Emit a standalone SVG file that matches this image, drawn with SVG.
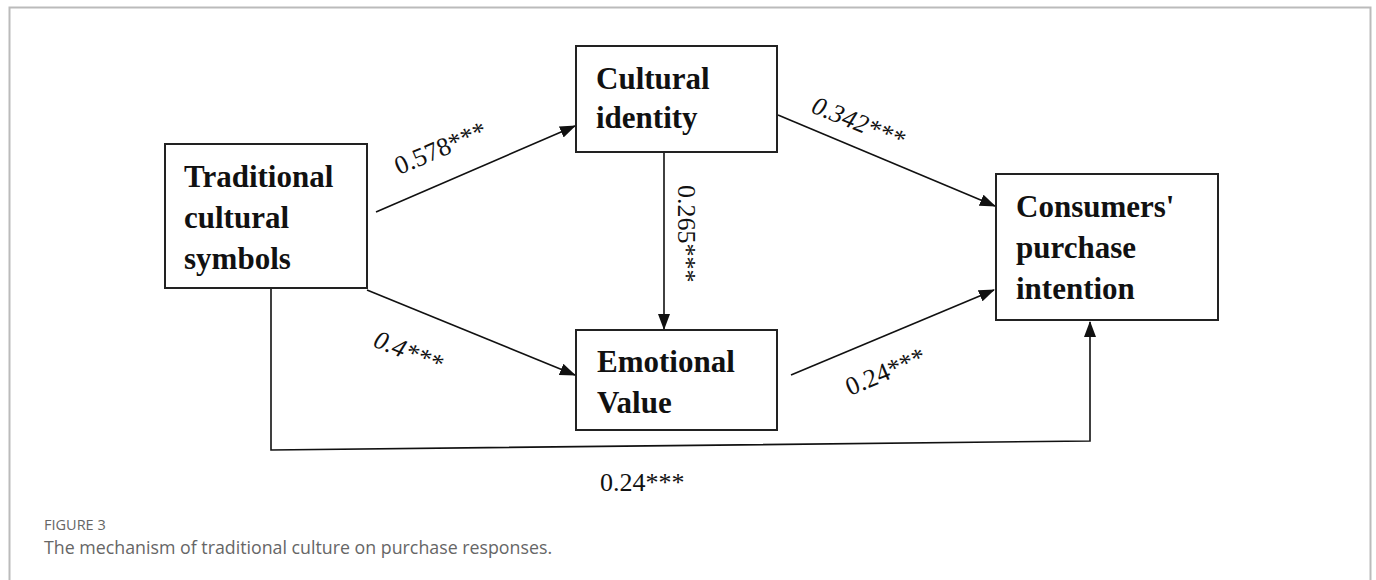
<svg xmlns="http://www.w3.org/2000/svg" width="1376" height="580" viewBox="0 0 1376 580">
<style>
.box{fill:#fff;stroke:#222;stroke-width:2}
.nt{font-family:"Liberation Serif","Times New Roman",serif;font-weight:bold;font-size:31px;fill:#111}
.lb{font-family:"Liberation Serif","Times New Roman",serif;font-size:26px;fill:#111}
.it{font-style:italic}
.edge{fill:none;stroke:#111;stroke-width:1.6}
.cap1{font-family:"Open Sans","Noto Sans",sans-serif;font-size:14.5px;fill:#666}
.cap2{font-family:"Open Sans","Noto Sans",sans-serif;font-size:17.8px;fill:#666}
</style>
<defs>
<marker id="ah" markerWidth="16" markerHeight="12" refX="15" refY="6" orient="auto" markerUnits="userSpaceOnUse">
<path d="M0,0 L16,6 L0,12 Z" fill="#111"/>
</marker>
</defs>
<rect width="1376" height="580" fill="#fff"/>
<path d="M9.5,590 V7.5 H1370.5 V590" fill="none" stroke="#bbb" stroke-width="2"/>

<g id="connectors">
<line class="edge" x1="376" y1="212" x2="575" y2="126" marker-end="url(#ah)"/>
<line class="edge" x1="778" y1="115" x2="995" y2="206" marker-end="url(#ah)"/>
<line class="edge" x1="664" y1="152" x2="664" y2="329" marker-end="url(#ah)"/>
<line class="edge" x1="367" y1="290" x2="575" y2="375" marker-end="url(#ah)"/>
<line class="edge" x1="791" y1="375" x2="994" y2="290" marker-end="url(#ah)"/>
<polyline class="edge" points="271,289 271,450 1090,441 1090,322" marker-end="url(#ah)"/>
<text class="lb" transform="translate(399,175) rotate(-23)">0.578***</text>
<text class="lb it" transform="translate(810,112) rotate(22)">0.342***</text>
<text class="lb" transform="translate(678,185) rotate(90)">0.265***</text>
<text class="lb it" transform="translate(372,346) rotate(22)">0.4***</text>
<text class="lb" transform="translate(850,396) rotate(-23)">0.24***</text>
<text class="lb" x="600" y="491">0.24***</text>
</g>

<g id="node-traditional">
<rect class="box" x="165" y="144" width="202" height="144"/>
<text class="nt" x="184" y="187">Traditional</text>
<text class="nt" x="184" y="228">cultural</text>
<text class="nt" x="184" y="269">symbols</text>
</g>
<g id="node-identity">
<rect class="box" x="576" y="46" width="201" height="106"/>
<text class="nt" x="596" y="89">Cultural</text>
<text class="nt" x="596" y="128">identity</text>
</g>
<g id="node-emotional">
<rect class="box" x="576" y="330" width="201" height="100"/>
<text class="nt" x="597" y="372">Emotional</text>
<text class="nt" x="597" y="413">Value</text>
</g>
<g id="node-intention">
<rect class="box" x="996" y="174" width="222" height="146"/>
<text class="nt" x="1016" y="217">Consumers'</text>
<text class="nt" x="1016" y="258">purchase</text>
<text class="nt" x="1016" y="299">intention</text>
</g>

<text class="cap1" x="44" y="530">FIGURE 3</text>
<text class="cap2" x="44" y="554">The mechanism of traditional culture on purchase responses.</text>
</svg>
